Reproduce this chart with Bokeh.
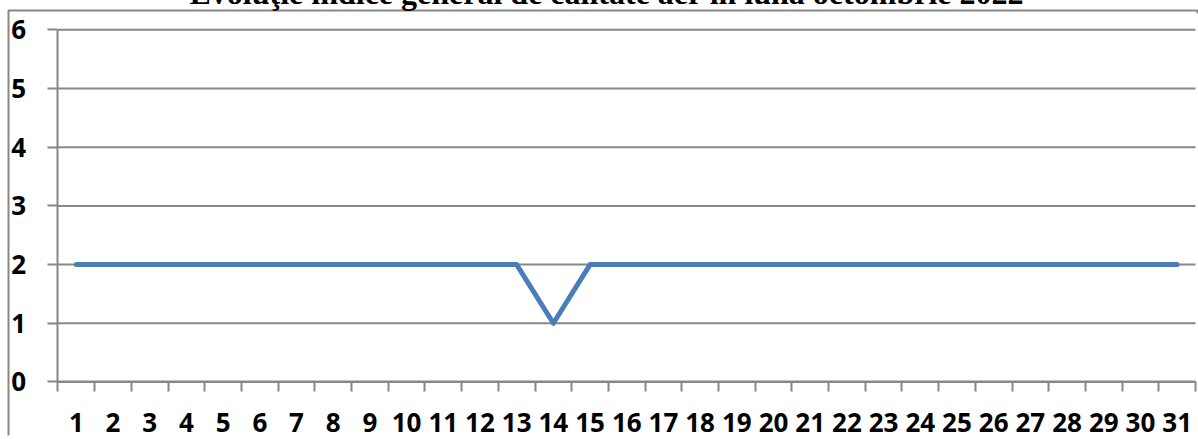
from bokeh.plotting import figure
from bokeh.models import FixedTicker, Range1d
from bokeh.embed import file_html
from bokeh.resources import INLINE

# ---- data ----
days = [1, 2, 3, 4, 5, 6, 7, 8, 9, 10, 11, 12, 13, 14, 15, 16,
        17, 18, 19, 20, 21, 22, 23, 24, 25, 26, 27, 28, 29, 30, 31]
index_values = [2, 2, 2, 2, 2, 2, 2, 2, 2, 2, 2, 2, 2, 1, 2, 2,
                2, 2, 2, 2, 2, 2, 2, 2, 2, 2, 2, 2, 2, 2, 2]
y_ticks = [0, 1, 2, 3, 4, 5, 6]
title_text = "Evoluţie indice general de calitate aer în  luna octombrie 2022"

GRAY = "#878787"
LABEL_FONT = "Open Sans"
SHIFT = 40  # canvas is shifted up so the title is cut at the top like in the reference

x_lo, x_hi = days[0] - 0.5, days[-1] + 0.5
y_lo, y_hi = y_ticks[0], y_ticks[-1]

# the frame is the whole chart box (its outline is the box border); axes sit inside it
p = figure(width=1198, height=439 + SHIFT, output_backend="svg", toolbar_location=None,
           x_range=Range1d(-0.849, 31.582), y_range=Range1d(-0.98, 6.329),
           min_border_left=8, min_border_right=0,
           min_border_top=10 + SHIFT, min_border_bottom=0)
p.styles = {"margin-top": f"-{SHIFT}px"}
p.outline_line_color = GRAY
p.outline_line_width = 2
# only the top and left edges of the box border are visible in the reference
p.outline_line_dash = "1192 1617 432"
p.background_fill_color = "white"
p.border_fill_color = "white"

# title
p.title.text = title_text
p.title.align = "left"
p.title.offset = 181
p.title.standoff = 0
p.title.text_font = "Liberation Serif"
p.title.text_font_style = "bold"
p.title.text_font_size = "32px"
p.title.text_color = "black"

# horizontal grid lines over the plotting area only
p.xgrid.grid_line_color = None
p.ygrid.grid_line_color = None
p.segment(x0=[x_lo] * len(y_ticks), y0=y_ticks, x1=[x_hi] * len(y_ticks), y1=y_ticks,
          line_color=GRAY, line_width=2)

# x axis: labels at day centres, ticks at day boundaries (minor ticks)
boundaries = [d - 0.5 for d in days] + [days[-1] + 0.5]
xa = p.xaxis[0]
xa.fixed_location = y_lo
xa.bounds = (x_lo, x_hi)
xa.ticker = FixedTicker(ticks=days, minor_ticks=boundaries)
xa.major_tick_line_color = None
xa.major_tick_out = 10
xa.major_tick_in = 0
xa.minor_tick_out = 10
xa.minor_tick_in = 0
xa.minor_tick_line_color = GRAY
xa.minor_tick_line_width = 2
xa.axis_line_color = GRAY
xa.axis_line_width = 2
xa.major_label_text_font = LABEL_FONT
xa.major_label_text_font_style = "bold"
xa.major_label_text_font_size = "26px"
xa.major_label_text_color = "black"
xa.major_label_standoff = 21

# y axis
ya = p.yaxis[0]
ya.fixed_location = x_lo
ya.bounds = (y_lo, y_hi)
ya.ticker = FixedTicker(ticks=y_ticks, minor_ticks=[])
ya.major_tick_out = 10
ya.major_tick_in = 0
ya.major_tick_line_color = GRAY
ya.major_tick_line_width = 2
ya.axis_line_color = GRAY
ya.axis_line_width = 2
ya.major_label_text_font = LABEL_FONT
ya.major_label_text_font_style = "bold"
ya.major_label_text_font_size = "26px"
ya.major_label_text_color = "black"
ya.major_label_standoff = 22

# data line
p.line(days, index_values, line_color="#4A7EBB", line_width=5,
       line_join="round", line_cap="round")

open("out.html", "w").write(file_html(p, INLINE))
